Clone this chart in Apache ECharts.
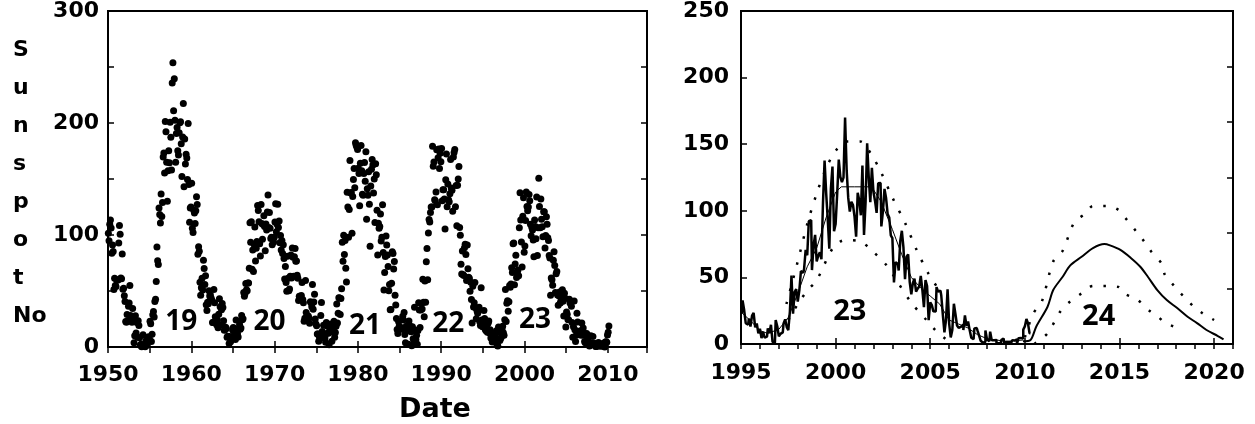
<!DOCTYPE html>
<html><head><meta charset="utf-8">
<script src="https://cdn.jsdelivr.net/npm/echarts@6/dist/echarts.min.js"></script>
<style>html,body{margin:0;padding:0;background:#fff}#c{width:1255px;height:424px}</style>
</head><body><div id="c"></div>
<script>
// ---------- LEFT PANEL: monthly sunspot numbers 1950 - 2010 ----------
const leftStartYear = 1950;
const ssn1950s = [
101.6,94.8,109.7,113.4,106.2,83.6,91.0,85.2,51.3,61.4,54.8,54.1,
59.9,59.9,59.9,92.9,108.5,100.6,61.5,61.0,83.1,51.6,52.4,45.8,
40.7,22.7,22.0,29.1,23.4,36.4,39.3,54.9,28.2,23.8,22.1,34.3,
26.5,3.9,10.0,27.8,12.5,21.8,8.6,23.5,19.3,8.2,1.6,2.5,
0.2,0.5,10.9,1.8,0.8,0.2,4.8,8.4,1.5,7.0,9.2,7.6,
23.1,20.8,4.9,11.3,28.9,31.7,26.7,40.7,42.7,58.5,89.2,76.9,
73.6,124.0,118.4,110.7,136.6,116.6,129.1,169.6,173.2,155.3,201.3,192.1,
165.0,130.2,157.4,175.2,164.6,200.7,187.2,158.0,235.8,253.8,210.9,239.4,
202.5,164.9,190.7,196.0,175.3,171.5,191.4,200.2,201.2,181.5,152.3,187.6,
217.4,143.1,185.7,163.3,172.0,168.7,149.6,199.6,145.2,111.4,124.0,125.0];
const ssn1960s = [
146.3,106.0,102.2,122.0,119.6,110.2,121.7,134.1,127.2,82.8,89.6,85.6,
57.9,46.1,53.0,61.4,51.0,77.4,70.2,55.8,63.6,37.7,32.6,40.0,
38.7,50.3,45.6,46.4,43.7,42.0,21.8,21.8,51.3,39.5,26.9,23.2,
19.8,24.4,17.1,29.3,43.0,35.9,19.6,33.2,38.8,35.3,23.4,14.9,
15.3,17.7,16.5,8.6,9.5,9.1,3.1,9.3,4.7,6.1,7.4,15.1,
17.5,14.2,11.7,6.8,24.1,15.9,11.9,8.9,16.8,20.1,15.8,17.0,
28.2,24.4,25.3,48.7,45.3,47.7,56.7,51.2,50.2,57.2,57.2,70.4,
110.9,93.6,111.8,69.5,86.5,67.3,91.5,107.2,76.8,88.2,94.3,126.4,
121.8,111.9,92.2,81.2,127.2,110.3,96.1,109.3,117.2,107.7,86.0,109.8,
104.4,120.5,135.8,106.8,120.0,106.0,96.8,98.0,91.3,95.7,93.5,97.9];
const ssn1970s = [
111.5,127.8,102.9,109.5,127.5,106.8,112.5,93.0,99.5,86.6,95.2,83.5,
91.3,79.0,60.7,71.8,57.5,49.8,81.0,61.4,50.2,51.7,63.2,82.2,
61.5,88.4,80.1,63.2,80.5,88.0,76.5,76.8,64.0,61.3,41.6,45.3,
43.4,42.9,46.0,57.7,42.4,39.5,23.1,25.6,59.3,30.7,23.9,23.3,
27.6,26.0,21.3,40.3,39.5,36.0,55.8,33.6,40.2,47.1,25.0,20.5,
18.9,11.5,11.5,5.1,9.0,11.4,28.2,39.7,13.9,9.1,19.4,7.8,
8.1,4.3,21.9,18.8,12.4,12.2,1.9,16.4,13.5,20.6,5.2,15.3,
16.4,23.1,8.7,12.9,18.6,38.5,21.4,30.1,44.0,43.8,29.1,43.2,
51.9,93.6,76.5,99.7,82.7,95.1,70.4,58.1,138.2,125.1,97.9,122.7,
166.6,137.5,138.0,101.5,134.4,149.5,159.4,142.2,182.4,180.2,178.3,176.3];
const ssn1980s = [
159.6,155.0,126.2,164.1,179.9,157.3,136.3,135.4,155.0,164.7,147.9,174.4,
114.0,141.3,135.5,156.4,127.5,90.0,143.8,158.7,167.3,162.4,137.5,150.1,
111.2,163.6,153.8,122.0,82.2,110.4,106.1,107.6,118.8,94.7,98.1,127.0,
84.3,51.0,66.5,80.7,99.2,91.1,82.2,71.8,50.3,55.8,33.3,33.4,
57.0,85.1,83.5,69.7,76.4,46.1,37.4,25.5,15.7,12.0,22.8,18.7,
16.5,15.9,17.2,16.2,27.5,24.2,30.7,11.1,3.9,18.6,16.2,17.3,
2.5,23.2,15.1,18.5,13.7,1.1,18.1,7.4,3.8,35.4,15.2,6.8,
10.4,2.4,14.7,39.6,33.0,17.4,33.0,38.7,33.9,60.6,39.9,27.1,
59.0,40.0,76.2,88.0,60.1,101.8,113.8,111.6,120.1,125.1,125.1,179.2,
161.3,165.1,131.4,130.6,138.5,176.2,126.9,168.9,176.7,159.4,173.0,165.5];
const ssn1990s = [
177.3,130.5,140.3,140.3,132.2,105.4,149.4,172.3,125.2,145.5,131.4,129.7,
136.9,167.5,141.9,140.0,121.3,169.7,173.7,176.3,125.3,144.1,108.2,144.4,
150.0,161.1,106.7,99.8,73.8,65.2,85.7,64.5,63.9,88.7,91.8,82.6,
59.3,91.0,69.8,62.2,61.3,49.8,57.9,42.3,21.4,54.2,35.7,39.6,
57.6,35.1,25.3,32.3,30.1,32.5,35.6,22.6,19.2,52.8,24.1,18.1,
23.3,32.7,25.5,15.6,14.6,19.1,13.1,21.3,23.3,12.5,15.5,8.1,
11.4,4.4,9.2,4.8,5.5,11.8,8.2,14.4,1.6,0.9,17.9,13.3,
5.7,7.6,8.7,15.5,18.5,12.7,10.4,24.4,51.3,22.8,39.0,41.2,
31.9,40.3,54.8,53.4,56.3,70.7,66.6,92.2,92.9,55.5,74.0,81.9,
62.0,66.3,68.8,63.7,106.4,137.7,113.5,93.7,71.5,116.7,133.2,84.6];
const ssn2000s = [
90.1,112.9,138.5,125.5,121.6,124.9,136.1,130.5,109.7,99.4,106.8,104.4,
95.6,80.6,113.5,107.7,96.6,134.0,81.8,106.4,150.7,125.5,106.5,132.2,
114.1,107.4,98.4,120.7,120.8,88.3,99.6,116.4,109.6,97.5,95.0,81.6,
79.5,46.2,61.5,60.0,55.2,77.4,85.0,72.7,48.7,65.5,67.3,46.5,
37.3,45.8,49.1,39.3,41.5,43.2,51.1,40.9,27.7,48.0,43.5,17.9,
31.3,29.2,24.5,24.4,42.7,39.3,40.1,36.4,21.9,8.7,18.0,41.1,
15.3,4.9,10.6,30.2,22.3,13.9,12.2,12.9,14.4,10.5,21.4,13.6,
16.9,10.6,4.8,3.7,11.7,12.0,10.0,6.2,2.4,0.9,1.7,10.1,
3.4,2.1,9.3,2.9,2.9,3.1,0.5,0.5,1.1,2.9,4.1,0.8,
1.5,1.4,0.7,1.2,2.9,2.6,3.5,0.0,4.4,4.6,4.2,10.8];
const ssn2010s = [13.2,18.8];

const leftTicks = ['1950','1960','1970','1980','1990','2000','2010'];
const leftCycleNames = ['19','20','21','22','23'];
const leftCycleX = [1958.8,1969.4,1980.85,1990.85,2001.25];
const leftCycleY = [22,22,19,20.5,24];

// ---------- RIGHT PANEL: cycle 23 observed + cycle 24 prediction ----------
const rightStartYear = 1995;
const obs1995to2002 = [
23.3,32.7,25.5,15.6,14.6,19.1,13.1,21.3,23.3,12.5,15.5,8.1,
11.4,4.4,9.2,4.8,5.5,11.8,8.2,14.4,1.6,0.9,17.9,13.3,
5.7,7.6,8.7,15.5,18.5,12.7,10.4,24.4,51.3,22.8,39.0,41.2,
31.9,40.3,54.8,53.4,56.3,70.7,66.6,92.2,92.9,55.5,74.0,81.9,
62.0,66.3,68.8,63.7,106.4,137.7,113.5,93.7,71.5,116.7,133.2,84.6,
90.1,112.9,138.5,125.5,121.6,124.9,170.1,130.5,109.7,99.4,106.8,104.4,
95.6,80.6,113.5,107.7,96.6,134.0,81.8,106.4,150.7,125.5,106.5,132.2,
114.1,107.4,98.4,120.7,120.8,88.3,99.6,116.4,109.6,97.5,95.0,81.6];
const obs2003to2010 = [
79.5,46.2,61.5,60.0,55.2,77.4,85.0,72.7,48.7,65.5,67.3,46.5,
37.3,45.8,49.1,39.3,41.5,43.2,51.1,40.9,27.7,48.0,43.5,17.9,
31.3,29.2,24.5,24.4,42.7,39.3,40.1,36.4,21.9,8.7,18.0,41.1,
15.3,4.9,10.6,30.2,22.3,13.9,12.2,12.9,14.4,10.5,21.4,13.6,
16.9,10.6,4.8,3.7,11.7,12.0,10.0,6.2,2.4,0.9,1.7,10.1,
3.4,2.1,9.3,2.9,2.9,3.1,0.5,0.5,1.1,2.9,4.1,0.8,
1.5,1.4,0.7,1.2,2.9,2.6,3.5,0.0,4.4,4.6,4.2,10.8,
13.2,18.8,15.4,8.0];

const smooth23X = [1995.0,1995.5,1996.0,1996.4,1997.0,1997.5,1998.0,1998.5,1999.0,1999.5,2000.0,2000.3,2001.0,2001.9,2002.4,2003.0,2003.5,2004.0,2004.5,2005.0,2005.5,2006.0,2006.5,2007.0,2007.5,2008.0,2008.5,2009.0,2009.5,2009.9];
const smooth23Y = [24,17.5,10,8,11,20,38,58,72,95,114,118,118,118,107,86,67,50,42,36,30,18,15,12,7,4,3,2,2.5,3];

const upper23X = [1997.4,1998.0,1998.5,1999.0,1999.5,2000.0,2000.6,2001.3,2001.9,2002.4,2003.0,2003.7,2004.3,2004.9,2005.4];
const upper23Y = [30,62,90,113,132,145,152,152,142,129,110,90,70,53,42];
const lower23X = [1997.5,1998.0,1998.5,1999.0,1999.9,2000.5,2001.3,2002.0,2002.7,2003.3,2004.0,2004.8,2005.3,2005.8];
const lower23Y = [18,30,40,48,73,78,77,69,59,46,31,18,10,4];

const pred24X = [2009.9,2010.3,2010.6,2011.2,2011.5,2012.0,2012.4,2013.0,2013.6,2014.2,2014.5,2015.05,2015.6,2016.1,2016.5,2017.0,2017.5,2018.05,2018.6,2019.1,2019.6,2020.2,2020.5];
const pred24Y = [2,3,13,28,40.5,50.5,59,65.5,72,75,74,70.6,64.6,58,50.5,40.5,33,27,20.5,15.7,10.5,6,3.5];
const upper24X = [2010.0,2010.45,2010.9,2011.5,2012.0,2012.6,2013.2,2013.6,2014.35,2014.95,2015.3,2015.9,2016.25,2016.7,2017.25,2017.4,2017.9,2018.4,2018.9,2019.4,2020.0];
const upper24Y = [5,23,32,62,70,91,98,103.6,103.6,100.6,94.8,84.3,78,69,60,52,43.5,35.5,28.5,23,18];
const lower24X = [2010.5,2011.2,2011.9,2012.4,2013.0,2013.6,2014.35,2014.95,2015.3,2015.9,2016.6,2017.1,2017.4,2017.9];
const lower24Y = [0,8,25,32,38,43.5,43.5,42.8,37.5,33.8,24.8,19.7,16,13];

const rightTicks = ['1995','2000','2005','2010','2015','2020'];
const rightCycleNames = ['23','24'];
const rightCycleX = [2000.75,2013.9];
const rightCycleY = [24,20.5];

// ---------- build ----------
const leftMonthly = [].concat(ssn1950s, ssn1960s, ssn1970s, ssn1980s, ssn1990s, ssn2000s, ssn2010s);
const leftPts = leftMonthly.map((v, i) => [leftStartYear + (i + 0.5) / 12, v]);
const obsMonthly = [].concat(obs1995to2002, obs2003to2010);
const obsPts = obsMonthly.map((v, i) => [rightStartYear + (i + 0.5) / 12, v]);
const zip = (xs, ys) => xs.map((x, i) => [x, ys[i]]);
const FONT = '"DejaVu Sans", sans-serif';
const axisLabelStyle = {color: '#000', fontFamily: FONT, fontWeight: 'bold', fontSize: 22};

function baseAxis(extra) {
  return Object.assign({
    type: 'value', axisLine: {show: false}, splitLine: {show: false},
    axisTick: {show: true, inside: true, length: 6, lineStyle: {color: '#000', width: 1.5}}
  }, extra);
}
const dotted = {color: '#000', width: 2.5, type: [2.5, 11]};

const chart = echarts.init(document.getElementById('c'));
chart.setOption({
  animation: false,
  backgroundColor: '#fff',
  grid: [
    {left: 108, right: 608, top: 11, bottom: 77, show: true, borderColor: '#000', borderWidth: 2, backgroundColor: 'transparent'},
    {left: 741, right: 22, top: 11, bottom: 80, show: true, borderColor: '#000', borderWidth: 2, backgroundColor: 'transparent'}
  ],
  xAxis: [
    baseAxis({gridIndex: 0, position: 'bottom', min: 1950, max: 2014.7, interval: 10,
      axisLabel: Object.assign({margin: 17, formatter: v => leftTicks.includes(String(v)) ? String(v) : ''}, axisLabelStyle)}),
    baseAxis({gridIndex: 0, position: 'top', min: 1950, max: 2014.7, interval: 5, axisLabel: {show: false}}),
    baseAxis({gridIndex: 1, position: 'bottom', min: 1995, max: 2021, interval: 5,
      axisLabel: Object.assign({margin: 18, formatter: v => rightTicks.includes(String(v)) ? String(v) : ''}, axisLabelStyle)}),
    baseAxis({gridIndex: 1, position: 'top', min: 1995, max: 2021, interval: 1, axisTick: {show: true, inside: true, length: 5, lineStyle: {color: '#000', width: 1.5}}, axisLabel: {show: false}})
  ],
  yAxis: [
    baseAxis({gridIndex: 0, position: 'left', min: 0, max: 300, interval: 50,
      axisLabel: Object.assign({margin: 9, formatter: v => v % 100 === 0 ? String(v) : ''}, axisLabelStyle)}),
    baseAxis({gridIndex: 0, position: 'right', min: 0, max: 300, interval: 50, axisLabel: {show: false}}),
    baseAxis({gridIndex: 1, position: 'left', min: 0, max: 250, interval: 50,
      axisLabel: Object.assign({margin: 12}, axisLabelStyle)}),
    baseAxis({gridIndex: 1, position: 'right', min: 0, max: 300, interval: 50, axisLabel: {show: false}})
  ],
  graphic: [
    {type: 'text', left: 13, top: 31, style: {text: 'S\nu\nn\ns\np\no\nt\nNo', fill: '#000', font: 'bold 22px "DejaVu Sans"', lineHeight: 38}},
    {type: 'text', left: 399, top: 396, style: {text: 'Date', fill: '#000', font: 'bold 27px "DejaVu Sans"'}}
  ],
  series: [
    {type: 'scatter', xAxisIndex: 0, yAxisIndex: 0, data: leftPts, symbolSize: 7,
      itemStyle: {color: '#000', opacity: 1}},
    {type: 'scatter', xAxisIndex: 0, yAxisIndex: 0, symbolSize: 0,
      data: leftCycleNames.map((n, i) => ({name: n, value: [leftCycleX[i], leftCycleY[i]]})),
      label: {show: true, position: 'inside', formatter: p => p.name, color: '#000', fontFamily: '"Open Sans"', fontWeight: 'bold', fontSize: 28, opacity: 1}},
    {type: 'line', xAxisIndex: 2, yAxisIndex: 2, data: obsPts, step: 'middle', showSymbol: false,
      lineStyle: {color: '#000', width: 2.5}},
    {type: 'line', xAxisIndex: 2, yAxisIndex: 2, data: zip(smooth23X, smooth23Y), showSymbol: false,
      lineStyle: {color: '#000', width: 1}},
    {type: 'line', xAxisIndex: 2, yAxisIndex: 2, data: zip(upper23X, upper23Y), showSymbol: false, smooth: 0.3, lineStyle: dotted},
    {type: 'line', xAxisIndex: 2, yAxisIndex: 2, data: zip(lower23X, lower23Y), showSymbol: false, smooth: 0.3, lineStyle: dotted},
    {type: 'line', xAxisIndex: 2, yAxisIndex: 2, data: zip(pred24X, pred24Y), showSymbol: false, smooth: 0.3,
      lineStyle: {color: '#000', width: 2}},
    {type: 'line', xAxisIndex: 2, yAxisIndex: 2, data: zip(upper24X, upper24Y), showSymbol: false, smooth: 0.3, lineStyle: dotted},
    {type: 'line', xAxisIndex: 2, yAxisIndex: 2, data: zip(lower24X, lower24Y), showSymbol: false, smooth: 0.3, lineStyle: dotted},
    {type: 'scatter', xAxisIndex: 2, yAxisIndex: 2, symbolSize: 0,
      data: rightCycleNames.map((n, i) => ({name: n, value: [rightCycleX[i], rightCycleY[i]]})),
      label: {show: true, position: 'inside', formatter: p => p.name, color: '#000', fontFamily: '"Open Sans"', fontWeight: 'bold', fontSize: 29, opacity: 1}}
  ]
});
</script>
</body></html>
